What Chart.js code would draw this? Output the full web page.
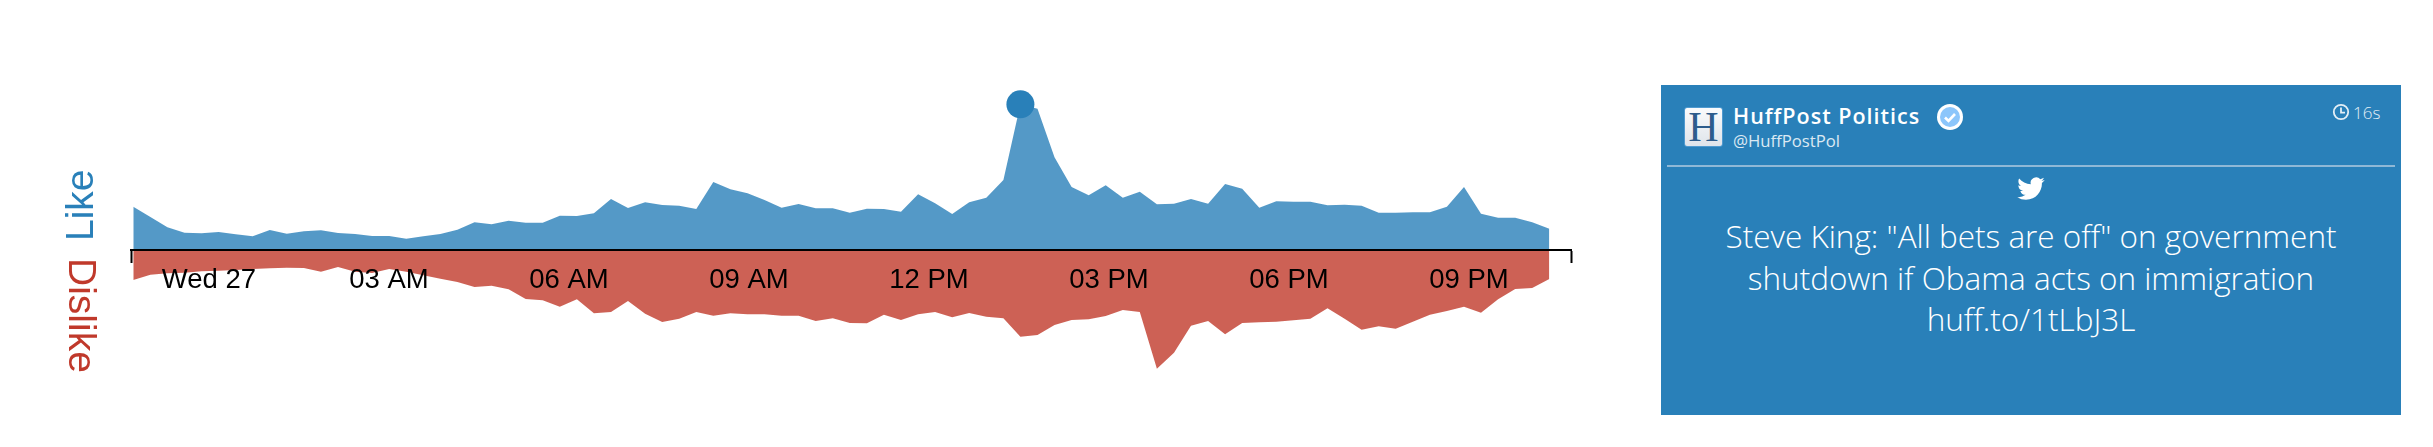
<!DOCTYPE html>
<html>
<head>
<meta charset="utf-8">
<title>Like / Dislike</title>
<script src="https://cdn.jsdelivr.net/npm/chart.js@4"></script>
<style>
html,body{margin:0;padding:0;background:#fff;width:2433px;height:447px;overflow:hidden}
#c{position:absolute;left:0;top:0}
.rot{position:absolute;font:39px/39px "Liberation Sans",Arial,sans-serif;white-space:nowrap}
#likeL{color:#2980b9;left:60px;top:241px;transform-origin:0 0;transform:rotate(-90deg)}
#disL{color:#c0392b;left:102px;top:258px;transform-origin:0 0;transform:rotate(90deg)}
#card{position:absolute;left:1661px;top:85px;width:740px;height:330px;background:#2980b9;color:#fff;font-family:"Open Sans",sans-serif}
#card>*{position:absolute}
#avatar{left:23px;top:22px;width:37px;height:38px;background:linear-gradient(#fafbfc,#dfe4ea);border:1px solid #4f9ad0;border-radius:3px;color:#2d5c8c;font:400 42px/38px "Liberation Serif",serif;text-align:center}
#name{left:72px;top:17px;font-size:21.5px;line-height:28px;font-weight:600;letter-spacing:1.0px;white-space:nowrap}
#handle{left:72px;top:45px;font-size:16.7px;line-height:22px;font-weight:400;color:#dbe9f3;white-space:nowrap}
#rule{left:6px;top:80px;width:728px;height:2px;background:#8fb8d6}
#badge{left:275px;top:18px}
#clock{left:671px;top:18px}
#age{left:692px;top:16px;font-size:17px;line-height:24px;font-weight:300;color:#e3eef6}
#bird{left:356px;top:91px}
#msg{left:0;top:130px;width:740px;text-align:center;font-size:31.5px;line-height:41.5px;font-weight:300}
</style>
</head>
<body>
<canvas id="c" width="2433" height="447"></canvas>
<div id="likeL" class="rot">Like</div>
<div id="disL" class="rot">Dislike</div>
<div id="card">
  <div id="avatar">H</div>
  <div id="name">HuffPost Politics</div>
  <div id="handle">@HuffPostPol</div>
  <svg id="badge" width="28" height="28" viewBox="0 0 28 28"><circle cx="14" cy="14" r="13" fill="#fff"/><circle cx="14" cy="14" r="10" fill="#8cc6fb"/><path d="M9 14.5l3.5 3.5 6.5-7" fill="none" stroke="#fff" stroke-width="2.6"/></svg>
  <svg id="clock" width="18" height="18" viewBox="0 0 18 18"><circle cx="9" cy="9" r="7.2" fill="none" stroke="#e3eef6" stroke-width="1.8"/><path d="M9 4.5V9.6H13" fill="none" stroke="#e3eef6" stroke-width="1.8"/></svg>
  <div id="age">16s</div>
  <div id="rule"></div>
  <svg id="bird" width="28" height="24" viewBox="0 1 24 21"><path fill="#fff" d="M23.953 4.57a10 10 0 01-2.825.775 4.958 4.958 0 002.163-2.723c-.951.555-2.005.959-3.127 1.184a4.92 4.92 0 00-8.384 4.482C7.69 8.095 4.067 6.13 1.64 3.162a4.822 4.822 0 00-.666 2.475c0 1.71.87 3.213 2.188 4.096a4.904 4.904 0 01-2.228-.616v.06a4.923 4.923 0 003.946 4.827 4.996 4.996 0 01-2.212.085 4.936 4.936 0 004.604 3.417 9.867 9.867 0 01-6.102 2.105c-.39 0-.779-.023-1.17-.067a13.995 13.995 0 007.557 2.209c9.053 0 13.998-7.496 13.998-13.985 0-.21 0-.42-.015-.63A9.935 9.935 0 0024 4.59z"/></svg>
  <div id="msg">Steve King: "All bets are off" on government<br>shutdown if Obama acts on immigration<br>huff.to/1tLbJ3L</div>
</div>
<script>
// minutes relative to Wed 27, 00:00
const times = [-75.7,-58.6,-41.6,-24.5,-7.5,9.6,26.7,43.7,60.8,77.8,94.9,112,129,146.1,163.1,180.2,197.3,214.3,231.4,248.4,265.5,282.6,299.6,316.7,333.7,350.8,367.9,384.9,402,419,436.1,453.2,470.2,487.3,504.3,521.4,538.5,555.5,572.6,589.6,606.7,623.8,640.8,657.9,674.9,692,709.1,726.1,743.2,760.2,777.3,794.4,811.4,828.5,845.5,862.6,879.7,896.7,913.8,930.8,947.9,965,982,999.1,1016.1,1033.2,1050.3,1067.3,1084.4,1101.4,1118.5,1135.6,1152.6,1169.7,1186.7,1203.8,1220.9,1237.9,1255,1272,1289.1,1306.2,1323.2,1340.3];
const like = [43.3,33,22.7,17.3,16.7,18,15.7,13.7,20,16.3,18.7,19.7,17,16,14,14,11.3,13.7,16,20.3,27.7,25.7,29.3,27.3,27.3,34.3,34,36.7,51,42,47.7,45,44.3,41,68,60.7,56.7,50,42.3,46,41.7,41.7,37.3,41.3,41,38.3,55.7,46.7,36,47.7,52.3,70,145.7,141.3,92.7,63,54.7,64.7,52.3,58.3,45.7,46.3,51,46.3,66,61.3,42.3,48.7,48.3,48.3,44.7,45.3,44.3,37.3,37.3,37.7,37.7,43.3,63,36.3,32.3,32.3,27.7,21.3];
const dislike = [30,24.7,23.3,22.7,21.3,20.7,20,19,18.3,17.7,18,21.7,17,21.7,23,19,21.7,25.3,28.7,32,37,35.7,39.3,49,50.3,56.7,49.3,63.3,62,51,63.7,72,68.7,62,65.7,63.3,64.3,64.3,65.7,65.7,71,68.3,73,73.3,64.7,70,64.3,62,67.3,63,66.7,68.3,86.7,85,75,70,69.3,66,60,62,118.7,102.7,75.7,71,84.3,73,72.3,71.7,70.3,68.7,58.3,68.7,79.7,76.3,78.7,71.7,64.7,61,56.7,62.7,49.3,39,38,29];
const tickValues = [-78,0,180,360,540,720,900,1080,1260,1362];
const tickLabels = ['','Wed 27','03 AM','06 AM','09 AM','12 PM','03 PM','06 PM','09 PM',''];
const markerIndex = 52;

const chart = new Chart(document.getElementById('c'), {
  type: 'line',
  data: {
    datasets: [
      {label:'Marker', data:[{x:times[markerIndex], y:like[markerIndex]}], showLine:false, pointRadius:14, pointHoverRadius:14, pointBackgroundColor:'#2980b9', pointBorderWidth:0, clip:false},
      {label:'Like', data:times.map((t,i)=>({x:t,y:like[i]})), fill:'origin', backgroundColor:'rgba(41,128,185,0.8)', borderWidth:0, pointRadius:0, tension:0},
      {label:'Dislike', data:times.map((t,i)=>({x:t,y:-dislike[i]})), fill:'origin', backgroundColor:'rgba(192,57,43,0.8)', borderWidth:0, pointRadius:0, tension:0}
    ]
  },
  options: {
    responsive:false, animation:false, devicePixelRatio:1,
    layout:{padding:{left:131,right:862,top:0,bottom:0}},
    plugins:{legend:{display:false},tooltip:{enabled:false}},
    scales:{
      x:{
        type:'linear', min:-78, max:1362, position:{y:0},
        afterBuildTicks:s=>{s.ticks=tickValues.map(v=>({value:v}));},
        border:{display:true,color:'#000',width:2,z:2},
        grid:{z:2,drawOnChartArea:false,drawTicks:true,tickLength:12,tickWidth:2,
          tickColor:c=>(tickLabels[c.index]===''?'#000':'rgba(0,0,0,0)')},
        ticks:{z:2,autoSkip:false,maxRotation:0,minRotation:0,padding:2,color:'#000',
          font:{family:'"Liberation Sans",Arial,sans-serif',size:27.5},
          callback:(v,i)=>tickLabels[i]}
      },
      y:{type:'linear',display:false,min:-197,max:250}
    }
  }
});
// one value unit = one pixel, zero line at pixel row 250
const area = chart.chartArea;
chart.options.scales.y.min = -(area.bottom - 250);
chart.options.scales.y.max = 250 - area.top;
chart.update();
</script>
</body>
</html>
